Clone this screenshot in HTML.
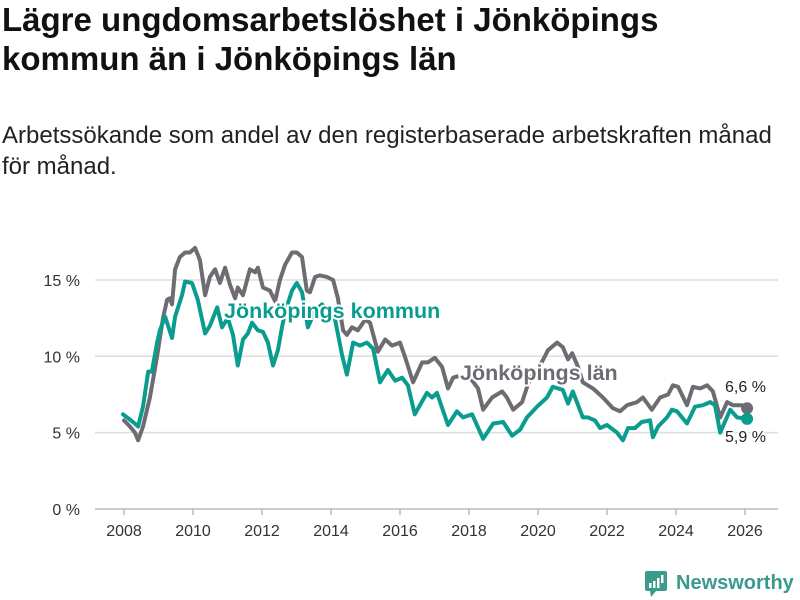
<!DOCTYPE html>
<html><head><meta charset="utf-8">
<style>
body{margin:0;width:800px;height:600px;background:#fff;font-family:"Liberation Sans",sans-serif;overflow:hidden;position:relative}
h1{position:absolute;left:2px;top:0px;margin:0;font-size:33px;line-height:39px;font-weight:bold;color:#111}
p.sub{position:absolute;left:2px;top:120px;margin:0;font-size:24px;line-height:31px;color:#222}
svg{position:absolute;left:0;top:0}
</style></head><body>
<h1>Lägre ungdomsarbetslöshet i Jönköpings<br>kommun än i Jönköpings län</h1>
<p class="sub">Arbetssökande som andel av den registerbaserade arbetskraften månad<br>för månad.</p>
<svg id="chart" width="800" height="600"></svg>
<script>
const yTicks=[0,5,10,15];
const yTickLabels=["0 %","5 %","10 %","15 %"];
const xTicks=[2008,2010,2012,2014,2016,2018,2020,2022,2024,2026];
const lanDates=[2008.00,2008.17,2008.32,2008.41,2008.55,2008.75,2008.96,2009.13,2009.25,2009.33,2009.39,2009.48,2009.62,2009.77,2009.91,2010.06,2010.20,2010.35,2010.49,2010.64,2010.78,2010.93,2011.07,2011.22,2011.30,2011.45,2011.65,2011.80,2011.88,2012.03,2012.23,2012.38,2012.52,2012.67,2012.87,2013.01,2013.16,2013.30,2013.39,2013.54,2013.68,2013.88,2014.06,2014.20,2014.35,2014.46,2014.61,2014.78,2014.99,2015.13,2015.36,2015.57,2015.77,2016.00,2016.14,2016.38,2016.64,2016.81,2017.01,2017.22,2017.39,2017.54,2017.68,2018.03,2018.26,2018.41,2018.67,2018.96,2019.10,2019.28,2019.54,2019.77,2020.06,2020.29,2020.55,2020.72,2020.87,2020.99,2021.16,2021.30,2021.59,2021.88,2022.17,2022.38,2022.58,2022.87,2023.04,2023.30,2023.54,2023.77,2023.91,2024.06,2024.32,2024.49,2024.70,2024.90,2025.07,2025.28,2025.48,2025.65,2025.91,2026.06];
const lanValues=[5.8,5.4,5.0,4.5,5.4,7.3,10.0,12.5,13.7,13.8,13.4,15.7,16.5,16.8,16.8,17.1,16.3,14.0,15.2,15.7,14.8,15.8,14.7,13.8,14.5,14.0,15.7,15.5,15.8,14.5,14.3,13.6,15.0,16.0,16.8,16.8,16.5,14.3,14.2,15.2,15.3,15.2,15.0,13.8,11.7,11.4,11.9,11.7,12.4,12.2,10.3,11.1,10.7,10.9,10.0,8.3,9.6,9.6,9.9,9.3,7.9,8.6,8.7,8.6,7.9,6.5,7.3,7.7,7.3,6.5,7.0,8.6,9.4,10.4,10.9,10.6,9.8,10.2,9.3,8.3,7.9,7.3,6.6,6.4,6.8,7.0,7.3,6.5,7.3,7.5,8.1,8.0,6.8,8.0,7.9,8.1,7.7,6.0,7.0,6.8,6.8,6.6];
const kommunDates=[2007.97,2008.26,2008.41,2008.55,2008.70,2008.81,2008.96,2009.04,2009.19,2009.39,2009.48,2009.68,2009.77,2009.97,2010.14,2010.35,2010.49,2010.70,2010.84,2011.01,2011.16,2011.30,2011.45,2011.59,2011.71,2011.88,2012.03,2012.17,2012.32,2012.46,2012.58,2012.67,2012.87,2013.01,2013.16,2013.33,2013.54,2013.74,2013.97,2014.12,2014.32,2014.46,2014.64,2014.84,2015.04,2015.22,2015.42,2015.65,2015.86,2016.06,2016.23,2016.43,2016.78,2016.93,2017.07,2017.39,2017.65,2017.83,2018.09,2018.41,2018.70,2018.99,2019.25,2019.48,2019.68,2019.97,2020.26,2020.43,2020.72,2020.87,2021.01,2021.30,2021.45,2021.65,2021.80,2022.00,2022.29,2022.46,2022.61,2022.81,2023.01,2023.25,2023.33,2023.48,2023.74,2023.88,2024.03,2024.32,2024.55,2024.78,2024.99,2025.13,2025.28,2025.57,2025.77,2026.06];
const kommunValues=[6.2,5.7,5.4,6.7,9.0,9.0,10.9,11.7,12.6,11.2,12.6,14.0,14.9,14.8,13.7,11.5,12.0,13.2,11.9,12.5,11.4,9.4,11.1,11.5,12.2,11.7,11.6,10.9,9.4,10.4,11.9,12.9,14.3,14.8,14.2,11.9,13.0,13.4,12.9,12.4,10.1,8.8,10.9,10.7,10.9,10.5,8.3,9.1,8.4,8.6,8.1,6.2,7.6,7.3,7.6,5.5,6.4,6.0,6.2,4.6,5.6,5.7,4.8,5.2,6.0,6.7,7.3,8.0,7.8,6.9,7.7,6.0,6.0,5.8,5.3,5.5,5.0,4.5,5.3,5.3,5.7,5.8,4.7,5.4,6.0,6.5,6.4,5.6,6.7,6.8,7.0,6.8,5.0,6.5,6.0,5.9];

const NS='http://www.w3.org/2000/svg';
const svg=document.getElementById('chart');
const xs=y=>124+(y-2008)*34.5;
const ys=v=>509-v*15.27;
function mk(tag,attrs,parent){const e=document.createElementNS(NS,tag);for(const k in attrs)e.setAttribute(k,attrs[k]);(parent||svg).appendChild(e);return e;}
yTicks.forEach((t,i)=>{
  const g=mk('line',{x1:95,x2:778,y1:ys(t),y2:ys(t),stroke:t===0?'#bbb':'#ddd','stroke-width':1.5});
  
  
  const l=mk('text',{x:80,y:ys(t)+6,'text-anchor':'end','font-size':16,fill:'#333','font-family':'Liberation Sans, sans-serif'});
  l.textContent=yTickLabels[i];
  
  
});
xTicks.forEach(t=>{
  const tk=mk('line',{x1:xs(t),x2:xs(t),y1:509,y2:515,stroke:'#bbb','stroke-width':1.5});
  
  
  const l=mk('text',{x:xs(t),y:536,'text-anchor':'middle','font-size':16,fill:'#333','font-family':'Liberation Sans, sans-serif'});
  l.textContent=t;
  
  
});
function series(d,v,color,name){
  const p=mk('path',{d:d.map((x,i)=>(i?'L':'M')+xs(x).toFixed(1)+','+ys(v[i]).toFixed(1)).join(''),fill:'none',stroke:color,'stroke-width':4,'stroke-linejoin':'round','stroke-linecap':'round'});
  
  
  const c=mk('circle',{cx:xs(d[d.length-1]),cy:ys(v[v.length-1]),r:6,fill:color});
  
  
}
series(lanDates,lanValues,'#6e6c72','lan-line');
series(kommunDates,kommunValues,'#0a9d8f','kommun-line');
function label(txt,x,y,color,size,bold,name,anchor){
  const t=mk('text',{x:x,y:y,fill:color,'font-size':size,'font-weight':bold?'bold':'normal','font-family':'Liberation Sans, sans-serif',stroke:'#fff','stroke-width':4,'paint-order':'stroke','text-anchor':anchor||'start'});
  t.textContent=txt;
  
  
}
label('Jönköpings kommun',224,318,'#0a9d8f',21.5,true,'kommun-label');
label('Jönköpings län',460,380,'#6e6c72',21.5,true,'lan-label');
label('6,6 %',725,392,'#222',16,false,'lan-end-value');
label('5,9 %',725,442,'#222',16,false,'kommun-end-value');
</script>
<svg width="800" height="600" style="pointer-events:none">
<rect x="645" y="571" width="22" height="20" rx="2" fill="#3a9a8c"/>
<polygon points="650,591 656,591 651,597" fill="#3a9a8c"/>
<rect x="649" y="583" width="2.5" height="5" fill="#fff"/><rect x="653" y="581" width="2.5" height="7" fill="#fff"/><rect x="657" y="578" width="2.5" height="10" fill="#fff"/><rect x="661" y="575" width="2.5" height="8" fill="#fff"/>
<text x="676" y="589" font-size="20" font-weight="bold" fill="#3a9a8c" font-family="Liberation Sans, sans-serif">Newsworthy</text>
</svg>
</body></html>
